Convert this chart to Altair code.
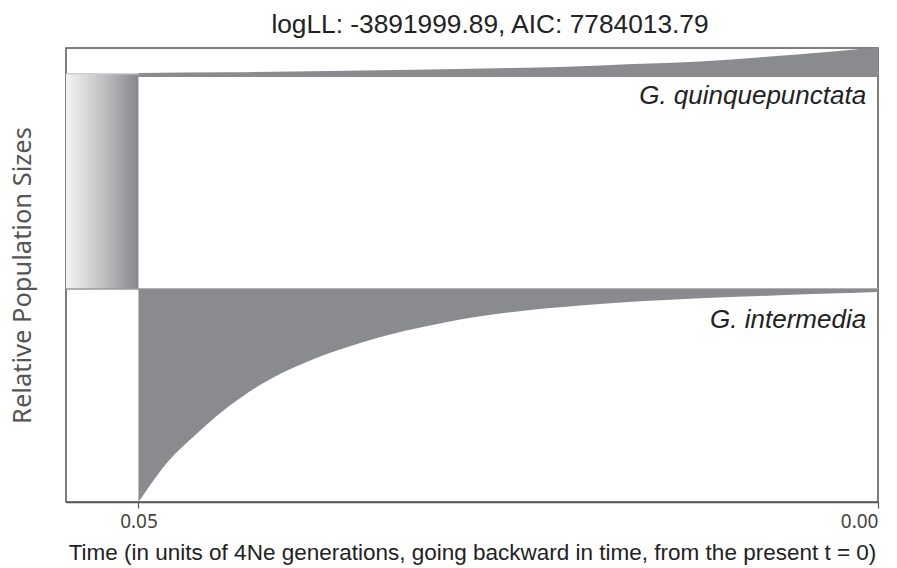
import altair as alt
import pandas as pd

# ---- data ----
T_MAX = 0.0549           # left edge of the time axis
T_SPLIT = 0.05           # split time
ANC_LOW, ANC_HIGH = 1.0, 2.01   # ancestral population band (relative units)
POP2_TOP = 1.0           # G. intermedia band top
POP1_BASE = 1.995        # G. quinquepunctata band base

pop2_t = [0.05, 0.04939, 0.04831, 0.04601, 0.04378, 0.04155, 0.03926, 0.03703,
          0.03480, 0.02912, 0.02466, 0.02014, 0.01608, 0.01203, 0.00797,
          0.00392, 0.0]
pop2_size = [1.0, 0.939, 0.836, 0.676, 0.545, 0.441, 0.362, 0.300, 0.249,
             0.155, 0.108, 0.078, 0.058, 0.044, 0.033, 0.023, 0.014]

pop1_t = [0.05, 0.04378, 0.03703, 0.03027, 0.02486, 0.02101, 0.01655, 0.01203,
          0.00750, 0.00304, 0.00122, 0.0]
pop1_size = [0.019, 0.022, 0.028, 0.035, 0.042, 0.048, 0.061, 0.073, 0.095,
             0.119, 0.131, 0.136]

labels = ["G. quinquepunctata", "G. intermedia"]
label_t = [0.0008, 0.0008]
label_y = [1.869, 0.817]

title_text = "logLL: -3891999.89, AIC: 7784013.79"
x_title = "Time (in units of 4Ne generations, going backward in time, from the present t = 0)"
y_title = "Relative Population Sizes"
x_ticks = [0.05, 0.0]

GRAY = "#8a8b8f"

pop2 = pd.DataFrame({"t": pop2_t, "size": pop2_size})
pop2["lo"] = POP2_TOP - pop2["size"]
pop2["hi"] = POP2_TOP
pop1 = pd.DataFrame({"t": pop1_t, "size": pop1_size})
pop1["lo"] = POP1_BASE
pop1["hi"] = POP1_BASE + pop1["size"]
anc = pd.DataFrame({"t0": [T_MAX], "t1": [T_SPLIT], "y0": [ANC_LOW], "y1": [ANC_HIGH]})
rules = pd.DataFrame({"y": [ANC_HIGH, POP2_TOP], "c": ["#cfcfcf", "#9a9a9a"]})
lab = pd.DataFrame({"label": labels, "t": label_t, "y": label_y})

xscale = alt.Scale(domain=[0, T_MAX], reverse=True, nice=False, zero=False)
yscale = alt.Scale(domain=[0, 2.131], nice=False, zero=False)

xaxis = alt.Axis(values=x_ticks, format=".2f", title=x_title, grid=False,
                 labelFont="Noto Sans", labelFontSize=19, labelColor="#444",
                 labelPadding=4, tickColor="#555", tickSize=6, tickWidth=1.2,
                 domainColor="#555", domainWidth=1.5,
                 titleFont="Liberation Sans", titleFontSize=22.5, titleFontWeight="normal",
                 titleColor="#222", titlePadding=10)
yaxis = alt.Axis(labels=False, ticks=False, domain=False, grid=False, title=y_title,
                 titleFont="Noto Sans", titleFontSize=25.5, titleFontWeight="normal",
                 titleColor="#555", titlePadding=31)

base_x = alt.X("t:Q", scale=xscale, axis=xaxis)

anc_layer = alt.Chart(anc).mark_rect(
    fill=alt.Gradient(gradient="linear",
                      stops=[alt.GradientStop(offset=0, color="#f4f4f4"),
                             alt.GradientStop(offset=0.5, color="#c2c2c5"),
                             alt.GradientStop(offset=1, color="#86878b")],
                      x1=0, x2=1, y1=0, y2=0)
).encode(
    x=alt.X("t0:Q", scale=xscale, axis=xaxis), x2="t1:Q",
    y=alt.Y("y0:Q", scale=yscale, axis=yaxis), y2="y1:Q")

rule_layer = alt.Chart(rules).mark_rule(strokeWidth=1.5).encode(
    y=alt.Y("y:Q", scale=yscale), color=alt.Color("c:N", scale=None))

pop2_layer = alt.Chart(pop2).mark_area(color=GRAY, interpolate="monotone").encode(
    x=base_x, y=alt.Y("lo:Q", scale=yscale), y2="hi:Q")

pop1_layer = alt.Chart(pop1).mark_area(color=GRAY, interpolate="monotone", clip=True).encode(
    x=base_x, y=alt.Y("hi:Q", scale=yscale), y2="lo:Q")

text_layer = alt.Chart(lab).mark_text(
    align="right", baseline="alphabetic", font="Liberation Sans", fontSize=26,
    fontStyle="italic", color="#222").encode(
    x=alt.X("t:Q", scale=xscale), y=alt.Y("y:Q", scale=yscale), text="label:N")

chart = alt.layer(anc_layer, rule_layer, pop2_layer, pop1_layer, text_layer).properties(
    width=812, height=454,
    title=alt.TitleParams(title_text, font="Liberation Sans", fontSize=26.3,
                          fontWeight="normal", color="#222", anchor="middle",
                          offset=10, dx=18),
    autosize=alt.AutoSizeParams(type="none"),
    padding={"left": 58, "top": 40, "right": 11, "bottom": 66},
).configure_view(stroke="#555", strokeWidth=1.5)

chart.save("out.html", embed_options={"renderer": "svg", "actions": False})
